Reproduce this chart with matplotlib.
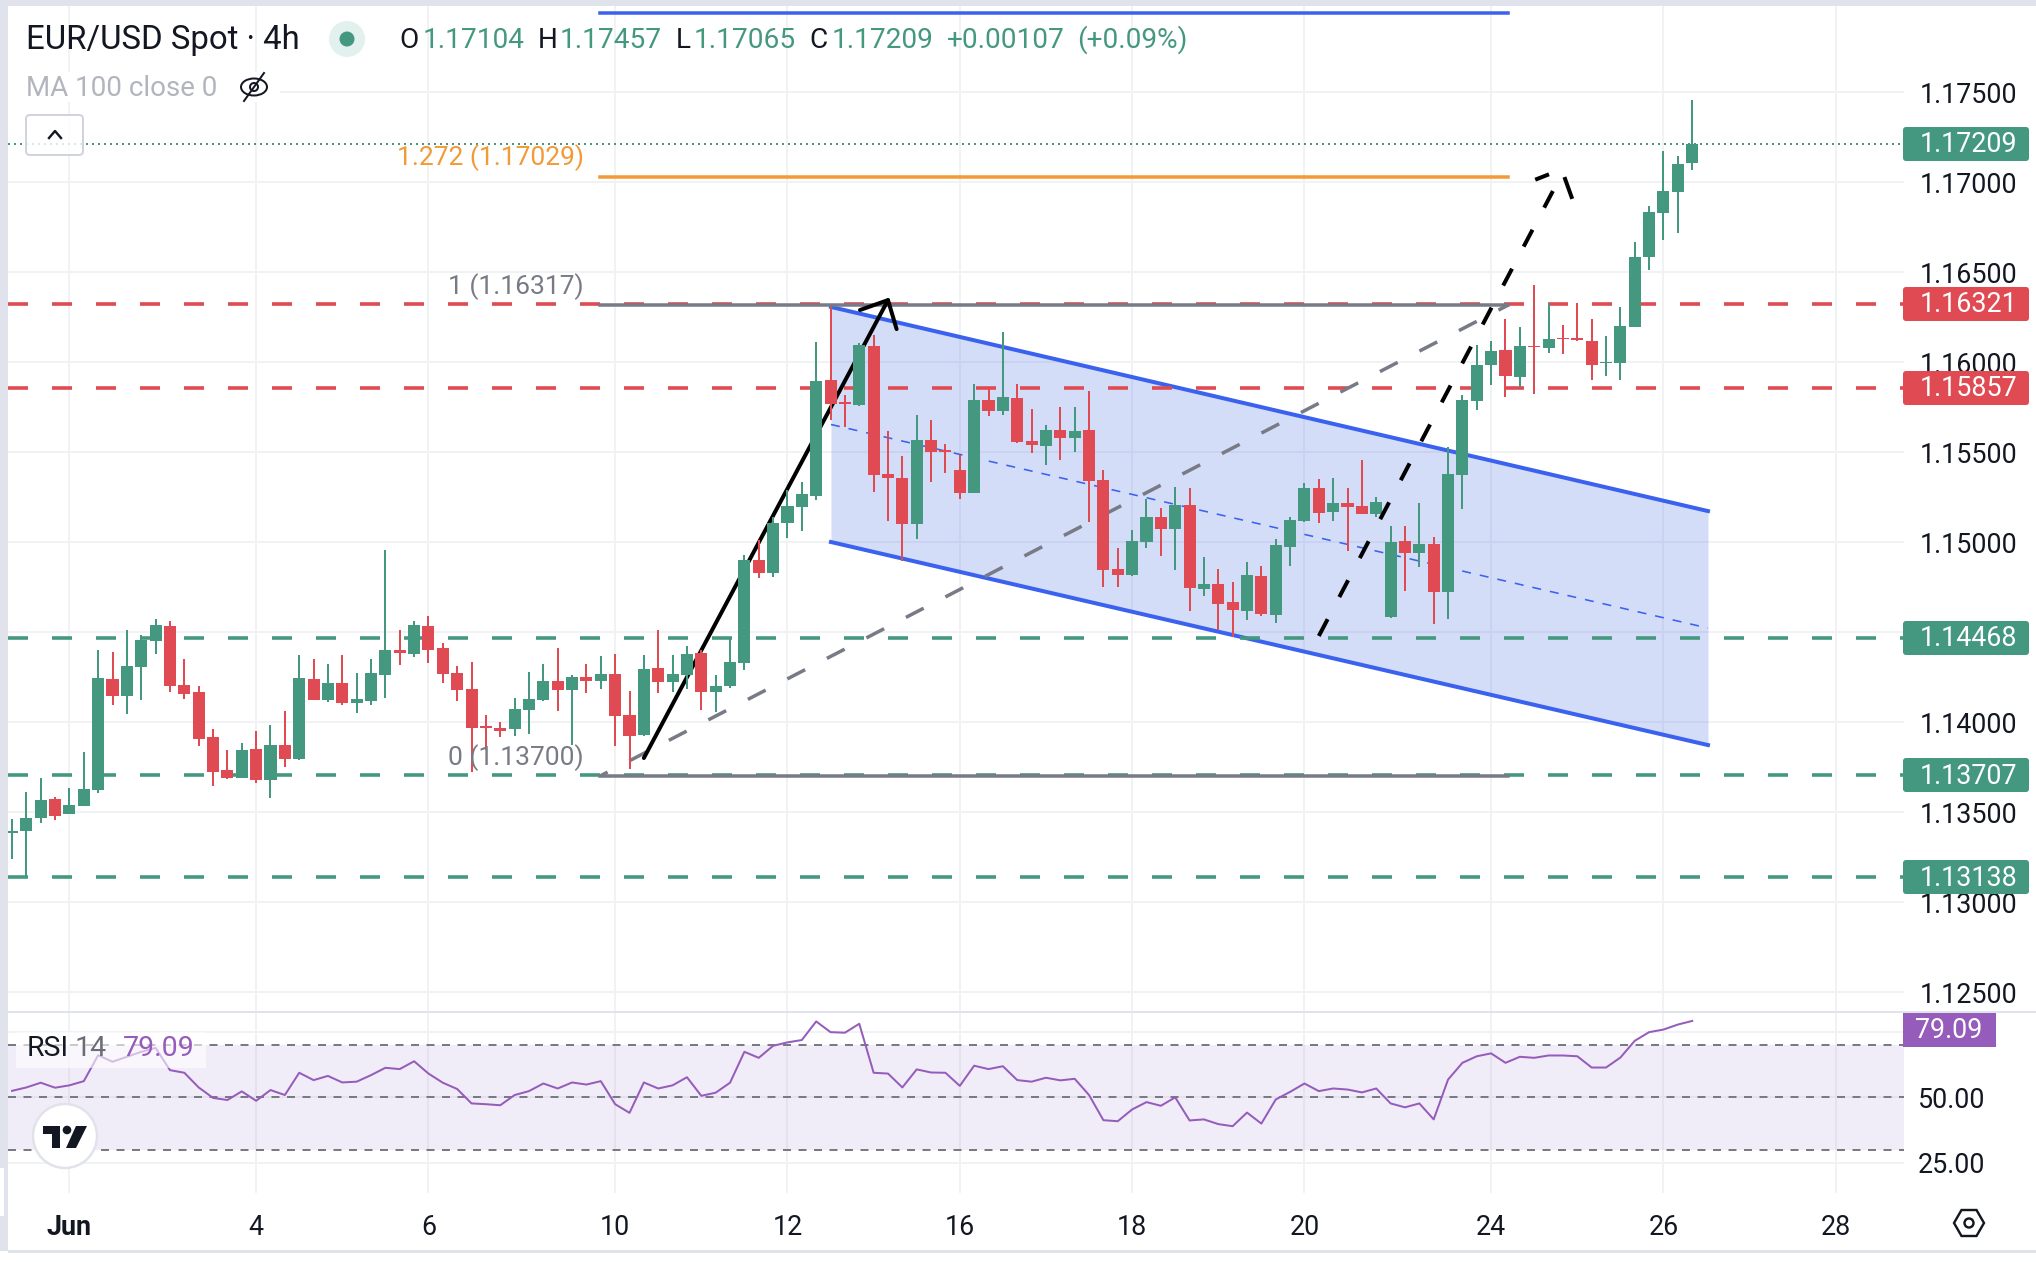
import matplotlib
matplotlib.use("Agg")
import matplotlib.pyplot as plt
from matplotlib.patches import Circle, Ellipse, FancyBboxPatch, Polygon, Rectangle
import numpy as np

W, H = 2036, 1262

# EUR/USD 4h candles
opens = [1.13385, 1.13396, 1.13466, 1.13572, 1.13490, 1.13535, 1.13622, 1.14239, 1.14146, 1.14307,
         1.14450, 1.14533, 1.14205, 1.14166, 1.13916, 1.13733, 1.13690, 1.13850, 1.13679, 1.13872,
         1.13796, 1.14239, 1.14122, 1.14216, 1.14107, 1.14118, 1.14263, 1.14400, 1.14377, 1.14533,
         1.14411, 1.14272, 1.14183, 1.13976, 1.13966, 1.13963, 1.14068, 1.14122, 1.14227, 1.14179,
         1.14250, 1.14227, 1.14266, 1.14039, 1.13927, 1.14300, 1.14224, 1.14261, 1.14383, 1.14167,
         1.14200, 1.14330, 1.14900, 1.14828, 1.15106, 1.15195, 1.15256, 1.15900, 1.15778, 1.15762,
         1.16089, 1.15378, 1.15356, 1.15100, 1.15567, 1.15510, 1.15400, 1.15273, 1.15789, 1.15728,
         1.15800, 1.15562, 1.15534, 1.15623, 1.15578, 1.15623, 1.15345, 1.14850, 1.14817, 1.15000,
         1.15139, 1.15073, 1.15206, 1.14739, 1.14767, 1.14667, 1.14617, 1.14812, 1.14595, 1.14973,
         1.15118, 1.15301, 1.15167, 1.15218, 1.15201, 1.15158, 1.14586, 1.15005, 1.14939, 1.14988,
         1.14724, 1.15373, 1.15785, 1.15981, 1.16066, 1.15919, 1.16089, 1.16079, 1.16132, 1.16132,
         1.16117, 1.15992, 1.15992, 1.16196, 1.16583, 1.16827, 1.16944, 1.17104]
closes = [1.13393, 1.13466, 1.13566, 1.13479, 1.13539, 1.13627, 1.14244, 1.14146, 1.14311, 1.14455,
          1.14539, 1.14202, 1.14157, 1.13907, 1.13724, 1.13689, 1.13844, 1.13679, 1.13872, 1.13796,
          1.14244, 1.14124, 1.14216, 1.14107, 1.14127, 1.14272, 1.14400, 1.14383, 1.14539, 1.14400,
          1.14268, 1.14179, 1.13968, 1.13968, 1.13952, 1.14072, 1.14127, 1.14227, 1.14179, 1.14250,
          1.14229, 1.14266, 1.14035, 1.13924, 1.14294, 1.14224, 1.14266, 1.14377, 1.14167, 1.14200,
          1.14333, 1.14900, 1.14828, 1.15106, 1.15200, 1.15267, 1.15895, 1.15767, 1.15769, 1.16095,
          1.15373, 1.15356, 1.15100, 1.15567, 1.15500, 1.15502, 1.15273, 1.15789, 1.15728, 1.15806,
          1.15556, 1.15539, 1.15623, 1.15578, 1.15617, 1.15339, 1.14845, 1.14817, 1.15006, 1.15139,
          1.15073, 1.15206, 1.14745, 1.14767, 1.14656, 1.14623, 1.14817, 1.14600, 1.14984, 1.15123,
          1.15301, 1.15162, 1.15218, 1.15196, 1.15158, 1.15222, 1.15001, 1.14939, 1.14988, 1.14724,
          1.15377, 1.15790, 1.15983, 1.16062, 1.15924, 1.16089, 1.16081, 1.16128, 1.16126, 1.16121,
          1.15983, 1.16000, 1.16200, 1.16583, 1.16833, 1.16950, 1.17099, 1.17209]
highs = [1.13461, 1.13609, 1.13687, 1.13583, 1.13633, 1.13833, 1.14400, 1.14389, 1.14511, 1.14483,
         1.14572, 1.14561, 1.14350, 1.14200, 1.13961, 1.13844, 1.13883, 1.13950, 1.13983, 1.14061,
         1.14372, 1.14350, 1.14322, 1.14372, 1.14272, 1.14350, 1.14955, 1.14511, 1.14561, 1.14589,
         1.14439, 1.14311, 1.14333, 1.14039, 1.14000, 1.14133, 1.14277, 1.14322, 1.14411, 1.14261,
         1.14322, 1.14366, 1.14377, 1.14172, 1.14372, 1.14511, 1.14372, 1.14422, 1.14400, 1.14261,
         1.14465, 1.14928, 1.15012, 1.15139, 1.15289, 1.15334, 1.16112, 1.16308, 1.15817, 1.16104,
         1.16150, 1.15617, 1.15478, 1.15706, 1.15678, 1.15545, 1.15484, 1.15878, 1.15850, 1.16167,
         1.15878, 1.15739, 1.15650, 1.15750, 1.15750, 1.15839, 1.15400, 1.14967, 1.15067, 1.15239,
         1.15189, 1.15306, 1.15300, 1.14917, 1.14850, 1.14778, 1.14889, 1.14867, 1.15017, 1.15139,
         1.15328, 1.15349, 1.15356, 1.15301, 1.15456, 1.15250, 1.15088, 1.15088, 1.15218, 1.15028,
         1.15526, 1.15817, 1.16094, 1.16115, 1.16238, 1.16196, 1.16427, 1.16327, 1.16206, 1.16327,
         1.16238, 1.16145, 1.16306, 1.16668, 1.16867, 1.17172, 1.17144, 1.17457]
lows = [1.13239, 1.13146, 1.13440, 1.13455, 1.13490, 1.13535, 1.13607, 1.14096, 1.14046, 1.14122,
        1.14377, 1.14168, 1.14129, 1.13868, 1.13646, 1.13683, 1.13690, 1.13663, 1.13579, 1.13752,
        1.13790, 1.14122, 1.14113, 1.14096, 1.14052, 1.14096, 1.14135, 1.14316, 1.14361, 1.14327,
        1.14216, 1.14116, 1.13722, 1.13844, 1.13918, 1.13924, 1.13935, 1.14116, 1.14061, 1.13872,
        1.14161, 1.14183, 1.13868, 1.13740, 1.13922, 1.14161, 1.14166, 1.14183, 1.14067, 1.14056,
        1.14189, 1.14289, 1.14802, 1.14806, 1.15023, 1.15062, 1.15234, 1.15678, 1.15639, 1.15756,
        1.15278, 1.15117, 1.14895, 1.15017, 1.15334, 1.15384, 1.15239, 1.15273, 1.15700, 1.15706,
        1.15550, 1.15495, 1.15428, 1.15456, 1.15500, 1.15112, 1.14750, 1.14750, 1.14812, 1.14967,
        1.14923, 1.14845, 1.14617, 1.14700, 1.14512, 1.14471, 1.14567, 1.14589, 1.14550, 1.14867,
        1.15111, 1.15107, 1.15118, 1.14952, 1.15158, 1.15141, 1.14580, 1.14729, 1.14860, 1.14542,
        1.14571, 1.15184, 1.15736, 1.15872, 1.15807, 1.15864, 1.15821, 1.16051, 1.16045, 1.16119,
        1.15900, 1.15921, 1.15900, 1.16196, 1.16510, 1.16678, 1.16717, 1.17065]

rsi = [52.4, 53.7, 55.5, 53.6, 54.5, 56.1, 66.0, 63.5, 65.4, 67.3,
       68.8, 60.3, 59.3, 53.7, 49.7, 48.9, 52.2, 48.6, 52.7, 50.8,
       59.3, 56.5, 58.1, 55.6, 55.9, 58.4, 61.2, 60.7, 63.7, 59.0,
       55.5, 53.1, 47.6, 47.3, 46.9, 50.8, 52.3, 55.2, 53.3, 55.6,
       54.8, 56.1, 47.3, 44.0, 55.6, 53.3, 54.5, 57.6, 50.5, 51.7,
       55.5, 67.3, 65.0, 69.6, 70.9, 71.8, 78.9, 74.8, 74.6, 78.0,
       59.3, 59.0, 53.7, 60.6, 59.4, 59.3, 54.3, 62.0, 60.7, 61.8,
       56.5, 55.9, 57.4, 56.4, 57.0, 50.8, 41.2, 40.8, 45.3, 48.1,
       46.7, 49.9, 41.1, 41.5, 39.7, 38.9, 44.1, 39.9, 49.1, 52.0,
       55.2, 52.3, 53.3, 52.9, 51.8, 53.3, 47.6, 46.1, 47.6, 41.5,
       56.7, 63.1, 65.6, 66.7, 63.1, 65.4, 65.0, 65.9, 65.9, 65.6,
       61.3, 61.3, 65.1, 71.5, 74.8, 75.8, 77.7, 79.09]

date_ticks = [4, 17, 29, 42, 54, 66, 78, 90, 103, 115, 127]
date_labels = ["Jun", "4", "6", "10", "12", "16", "18", "20", "24", "26", "28"]
price_ticks = [1.175, 1.17, 1.165, 1.16, 1.155, 1.15, 1.145, 1.14, 1.135, 1.13, 1.125]
# the 1.145 label sits behind the 1.14468 badge in the original
price_labels = ["1.17500", "1.17000", "1.16500", "1.16000", "1.15500", "1.15000", "",
                "1.14000", "1.13500", "1.13000", "1.12500"]

res_levels = [1.16321, 1.15857]
sup_levels = [1.14468, 1.13707, 1.13138]
last_price = 1.17209

# drawings, (bar, price)
fib_x = [40.95, 104.2]
fib_top = 1.17939
fib_ext = 1.17029
fib_1 = 1.16317
fib_0 = 1.13700
chan_x = [57.03, 118.1]
chan_upper = [1.16306, 1.15172]
chan_mid = [1.15653, 1.14522]
chan_lower = [1.15000, 1.13872]
arrow_x = [44.0, 61.0]
arrow_y = [1.13800, 1.16344]
arrow_head_x = [59.05, 61.0, 61.6]
arrow_head_y = [1.16289, 1.16344, 1.16183]
proj_x = [91.0, 107.3]
proj_y = [1.14478, 1.16950]

GREEN = "#459880"
RED = "#e04a52"
BLUE = "#3a62ee"
GREY = "#787b86"
INK = "#131722"
PURPLE = "#955cbb"
GRID = "#f1f2f4"
EDGE = "#e0e3eb"
FS = 19.4

plt.rcParams["font.family"] = ["Roboto", "DejaVu Sans"]


def px_rect(x0, y0, x1, y1):
    return [x0 / W, 1 - y1 / H, (x1 - x0) / W, (y1 - y0) / H]


def px(v):
    return v * 72 / 100  # pixels to points


def dash(on, off, lw, start=0):
    return (px(start) / lw, (px(on) / lw, px(off) / lw))


fig = plt.figure(figsize=(W / 100, H / 100), dpi=100, facecolor="white")

# price panel
ax = fig.add_axes(px_rect(8, 6, 1904, 1012))
x_lim = (-0.279, 131.75)
ax.set_xlim(x_lim)
ax.set_ylim(1.12389, 1.17978)
for s in ax.spines.values():
    s.set_visible(False)
ax.yaxis.tick_right()
ax.set_yticks(price_ticks)
ax.set_yticklabels(price_labels, fontsize=FS, color=INK)
ax.set_xticks(date_ticks)
ax.tick_params(length=0, labelbottom=False, pad=px(16))
ax.grid(True, color=GRID, lw=px(2))
ax.set_axisbelow(True)

# channel
ax.fill_between(chan_x, chan_lower, chan_upper, color="#2a55e0", alpha=0.2, lw=0, zorder=2)
ax.plot(chan_x, chan_upper, color=BLUE, lw=px(4), zorder=3)
ax.plot(chan_x, chan_lower, color=BLUE, lw=px(4), zorder=3)
ax.plot(chan_x, chan_mid, color=BLUE, lw=px(1.6), zorder=3, ls=dash(9, 9, px(1.6)))

# support and resistance
for lvl in res_levels:
    ax.plot(x_lim, [lvl, lvl], color=RED, lw=px(3.6), ls=dash(20, 24, px(3.6)), dash_capstyle="butt", zorder=3)
for lvl in sup_levels:
    ax.plot(x_lim, [lvl, lvl], color=GREEN, lw=px(3.6), ls=dash(20, 24, px(3.6)), dash_capstyle="butt", zorder=3)
ax.plot(x_lim, [last_price, last_price], color=GREEN, lw=px(2), ls=dash(2, 4, px(2)), zorder=3)

# fib extension
ax.plot(fib_x, [fib_top, fib_top], color=BLUE, lw=px(3.5), zorder=3, clip_on=False)
ax.plot(fib_x, [fib_ext, fib_ext], color="#f19a36", lw=px(3.5), zorder=3)
ax.plot(fib_x, [fib_1, fib_1], color=GREY, lw=px(3.5), zorder=3)
ax.plot(fib_x, [fib_0, fib_0], color=GREY, lw=px(3.5), zorder=3)
ax.plot(fib_x, [fib_0, fib_1], color=GREY, lw=px(3.5), ls=dash(20, 24.5, px(3.5), start=11.5),
        dash_capstyle="butt", zorder=3)

# hand drawn arrows
ax.plot(arrow_x, arrow_y, color="black", lw=px(4), zorder=3, solid_capstyle="round")
ax.plot(arrow_head_x, arrow_head_y, color="black", lw=px(4), zorder=3, solid_capstyle="round")
ax.plot(proj_x, proj_y, color="black", lw=px(4), ls=dash(19, 25, px(4)), dash_capstyle="butt", zorder=5)
ax.plot([106.2, 106.9], [1.17017, 1.17039], color="black", lw=px(4), zorder=5)
ax.plot([108.15, 108.6], [1.17017, 1.16917], color="black", lw=px(4), zorder=5)

# candles
bars = np.arange(len(opens))
o, c = np.array(opens), np.array(closes)
colors = [GREEN if b else RED for b in c >= o]
ax.vlines(bars, lows, highs, colors=colors, lw=px(2), zorder=4)
ax.bar(bars, np.abs(c - o), bottom=np.minimum(o, c), width=0.84, color=colors, lw=0, zorder=4)

# RSI panel
ax2 = fig.add_axes(px_rect(8, 1012, 1904, 1193))
ax2.set_xlim(x_lim)
ax2.set_ylim(13.4, 82.5)
for s in ax2.spines.values():
    s.set_visible(False)
ax2.patch.set_alpha(0)
ax2.yaxis.tick_right()
ax2.set_yticks([75, 50, 25])
ax2.set_yticklabels(["", "50.00", "25.00"], fontsize=FS, color=INK)
ax2.set_xticks(date_ticks)
ax2.set_xticklabels(date_labels, fontsize=FS, color=INK)
ax2.get_xticklabels()[0].set_fontweight("bold")
ax2.tick_params(axis="y", length=0, pad=px(14))
ax2.tick_params(axis="x", length=0, pad=px(21))
ax2.grid(True, color=GRID, lw=px(2))
ax2.set_axisbelow(True)
ax2.axhspan(30, 70, color="#7e57c2", alpha=0.1, lw=0, zorder=1)
for lvl in [70, 50, 30]:
    ax2.axhline(lvl, color=GREY, lw=px(2), ls=dash(8, 7.5, px(2)), dash_capstyle="butt", zorder=2)
ax2.plot(bars, rsi, color=PURPLE, lw=px(2), zorder=3)

# overlay in pixels, for the TradingView furniture
ui = fig.add_axes([0, 0, 1, 1], facecolor="none")
ui.set_xlim(0, W)
ui.set_ylim(H, 0)
ui.axis("off")

ui.add_patch(Rectangle((0, 0), W, 6, color=EDGE, lw=0))
ui.add_patch(Rectangle((0, 0), 8, 1251, color=EDGE, lw=0))
ui.add_patch(Rectangle((0, 1168), 4, 48, color="white", lw=0))
ui.add_patch(Rectangle((8, 1011), W - 8, 2, color=EDGE, lw=0))
ui.add_patch(Rectangle((8, 1250), W - 8, 2.5, color=EDGE, lw=0))
ui.add_patch(Rectangle((8, 72), 272, 30, color="white", lw=0))

# legend row
ui.text(26, 40, "EUR/USD Spot · 4h", fontsize=23.7, color=INK, va="center")
ui.add_patch(Ellipse((347, 39), 36, 36, color="#e3f1ee", lw=0))
ui.add_patch(Circle((347, 39), 7.5, color=GREEN, lw=0))
ohlc_bits = [(399, "O", INK), (423, "1.17104", GREEN), (538, "H", INK), (560, "1.17457", GREEN),
             (676, "L", INK), (694, "1.17065", GREEN), (809, "C", INK), (832, "1.17209", GREEN),
             (947, "+0.00107", GREEN), (1077, "(+0.09%)", GREEN)]
for x, txt, col in ohlc_bits:
    ui.text(x, 40, txt, fontsize=20.2, color=col, va="center")
ui.text(26, 88, "MA 100 close 0", fontsize=20, color="#b2b5be", va="center")
ui.add_patch(Ellipse((254, 87), 26, 17, fill=False, ec=INK, lw=px(2)))
ui.add_patch(Circle((254, 87), 4, fill=False, ec=INK, lw=px(2)))
ui.plot([244, 264], [101, 73], color=INK, lw=px(2))
ui.add_patch(FancyBboxPatch((29, 118), 51, 34, boxstyle="round,pad=3,rounding_size=4",
                            fc=(1, 1, 1, 0.8), ec="#d1d4dc", lw=px(2)))
ui.plot([49, 55, 61], [138, 131, 138], color=INK, lw=px(2.4))

# fib labels
ui.text(584, 158, "1.272 (1.17029)", fontsize=19, color="#f19a36", va="center", ha="right")
ui.text(584, 287, "1 (1.16317)", fontsize=19, color=GREY, va="center", ha="right")
ui.text(584, 758, "0 (1.13700)", fontsize=19, color=GREY, va="center", ha="right")

# price badges
badges = [(144, "1.17209", GREEN), (304, "1.16321", RED), (388, "1.15857", RED),
          (638, "1.14468", GREEN), (775, "1.13707", GREEN), (877, "1.13138", GREEN)]
for yc, txt, col in badges:
    ui.add_patch(FancyBboxPatch((1906, yc - 14), 120, 28, boxstyle="round,pad=3,rounding_size=3", fc=col, lw=0))
    ui.text(1920, yc + 1, txt, fontsize=FS, color="white", va="center")
ui.add_patch(Rectangle((1903, 1013), 93, 34, color=PURPLE, lw=0))
ui.text(1949, 1031, "79.09", fontsize=FS, color="white", va="center", ha="center")

# RSI legend
ui.add_patch(Rectangle((16, 1032), 190, 36, color="white", alpha=0.6, lw=0))
ui.text(27, 1049, "RSI", fontsize=20.5, color=INK, va="center")
ui.text(75, 1049, "14", fontsize=20.5, color="#6a6d78", va="center")
ui.text(123, 1049, "79.09", fontsize=20.5, color=PURPLE, va="center")

# logo
ui.add_patch(Circle((65, 1136), 32, fc="white", ec=EDGE, lw=px(2.5)))
ui.add_patch(Polygon([(43.5, 1126), (60, 1126), (60, 1148), (52, 1148), (52, 1134), (43.5, 1134)], color=INK, lw=0))
ui.add_patch(Circle((67, 1130), 4.3, color=INK, lw=0))
ui.add_patch(Polygon([(76, 1126), (87, 1126), (76, 1148), (66, 1148)], color=INK, lw=0))

# settings icon
hex_a = np.deg2rad(np.arange(0, 360, 60))
ui.add_patch(Polygon(np.column_stack([1969 + 15 * np.cos(hex_a), 1223 + 15 * np.sin(hex_a)]),
                     fill=False, ec=INK, lw=px(2.4)))
ui.add_patch(Circle((1969, 1223), 4.5, fill=False, ec=INK, lw=px(2.4)))

plt.savefig("out.png", dpi=100)
